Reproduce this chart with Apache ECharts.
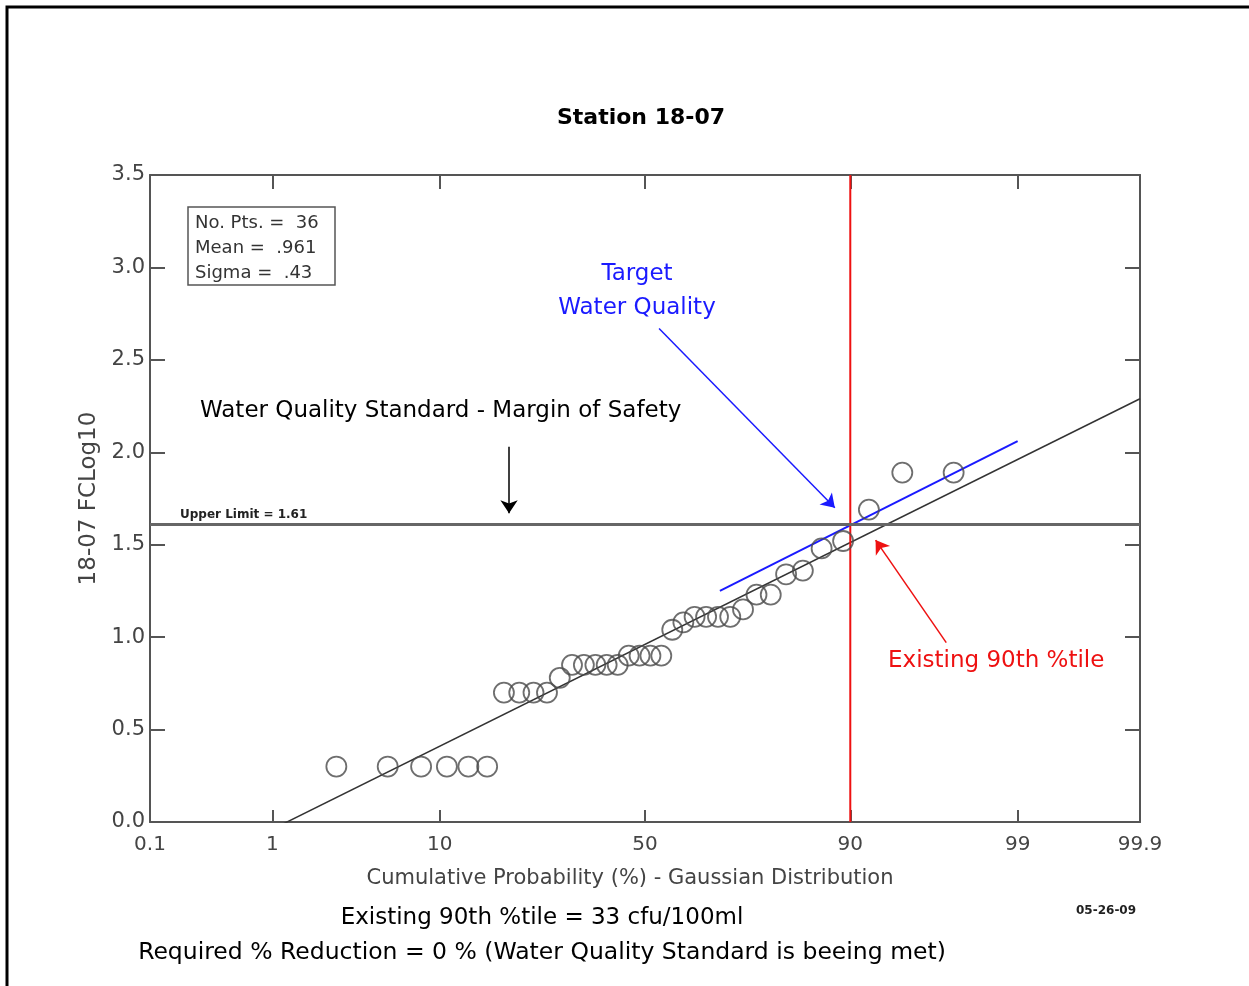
<!DOCTYPE html>
<html><head><meta charset="utf-8">
<script src="https://cdn.jsdelivr.net/npm/echarts@6/dist/echarts.min.js"></script>
<style>html,body{margin:0;padding:0;background:#fff;overflow:hidden}#c{width:1249px;height:986px}</style>
</head><body><div id="c"></div>
<script>
// ---- data ----
const probTicks = [0.1, 1, 10, 50, 90, 99, 99.9];
const topTicks = [1, 10, 50, 90, 99];
const pointProb = [2.70, 5.41, 8.11, 10.81, 13.51, 16.22, 18.92, 21.62, 24.32, 27.03, 29.73, 32.43, 35.14, 37.84, 40.54, 43.24, 45.95, 48.65, 51.35, 54.05, 56.76, 59.46, 62.16, 64.86, 67.57, 70.27, 72.97, 75.68, 78.38, 81.08, 83.78, 86.49, 89.19, 91.89, 94.59, 97.30];
const pointValue = [0.30, 0.30, 0.30, 0.30, 0.30, 0.30, 0.70, 0.70, 0.70, 0.70, 0.78, 0.85, 0.85, 0.85, 0.85, 0.85, 0.90, 0.90, 0.90, 0.90, 1.04, 1.08, 1.11, 1.11, 1.11, 1.11, 1.15, 1.23, 1.23, 1.34, 1.36, 1.48, 1.52, 1.69, 1.89, 1.89];
const meanVal = 0.961;
const sigmaVal = 0.43;
const upperLimit = 1.61;
const existing90 = 90;
const targetLine = [[68, 1.25], [99, 2.06]];
const arrowStd = [[19.8, 2.03], [19.8, 1.67]];
const arrowTarget = [[53.5, 2.67], [88.2, 1.70]];
const arrowExisting = [[97.0, 0.97], [92.5, 1.525]];

// inverse normal CDF (Acklam)
function invNorm(p) {
  const a = [-3.969683028665376e+01, 2.209460984245205e+02, -2.759285104469687e+02, 1.383577518672690e+02, -3.066479806614716e+01, 2.506628277459239e+00];
  const b = [-5.447609879822406e+01, 1.615858368580409e+02, -1.556989798598866e+02, 6.680131188771972e+01, -1.328068155288572e+01];
  const c = [-7.784894002430293e-03, -3.223964580411365e-01, -2.400758277161838e+00, -2.549732539343734e+00, 4.374664141464968e+00, 2.938163982698783e+00];
  const d = [7.784695709041462e-03, 3.224671290700398e-01, 2.445134137142996e+00, 3.754408661907416e+00];
  const pl = 0.02425, ph = 1 - pl;
  let q, r;
  if (p < pl) { q = Math.sqrt(-2 * Math.log(p)); return (((((c[0]*q+c[1])*q+c[2])*q+c[3])*q+c[4])*q+c[5]) / ((((d[0]*q+d[1])*q+d[2])*q+d[3])*q+1); }
  if (p <= ph) { q = p - 0.5; r = q*q; return (((((a[0]*r+a[1])*r+a[2])*r+a[3])*r+a[4])*r+a[5])*q / (((((b[0]*r+b[1])*r+b[2])*r+b[3])*r+b[4])*r+1); }
  q = Math.sqrt(-2 * Math.log(1 - p)); return -(((((c[0]*q+c[1])*q+c[2])*q+c[3])*q+c[4])*q+c[5]) / ((((d[0]*q+d[1])*q+d[2])*q+d[3])*q+1);
}
const zOf = pc => invNorm(pc / 100);
const zMin = zOf(probTicks[0]), zMax = zOf(probTicks[probTicks.length - 1]);
const tickZ = probTicks.map(zOf);
const topZ = topTicks.map(zOf);
const fmtX = v => { for (let i = 0; i < tickZ.length; i++) if (Math.abs(tickZ[i] - v) < 1e-6) return String(probTicks[i]); return ''; };

const scatterData = pointProb.map((p, i) => [zOf(p), pointValue[i]]);
const fitData = [[zMin, meanVal + sigmaVal * zMin], [zMax, meanVal + sigmaVal * zMax]];
const toZ = arr => arr.map(d => [zOf(d[0]), d[1]]);

const FONT = '"DejaVu Sans", Verdana, sans-serif';
const AX = '#555';
const chart = echarts.init(document.getElementById('c'), null, { renderer: 'canvas' });
const arrowLine = (pts, color) => ({
  symbol: ['none', 'arrow'], symbolSize: 13, silent: true, label: { show: false },
  lineStyle: { color: color, width: 1.5, type: 'solid' },
  data: [[{ coord: toZ(pts)[0] }, { coord: toZ(pts)[1] }]]
});

chart.setOption({
  animation: false,
  backgroundColor: '#fff',
  grid: { left: 150, right: 109, top: 175, bottom: 164, containLabel: false },
  xAxis: [{
    type: 'value', min: zMin, max: zMax, position: 'bottom',
    axisLine: { show: true, onZero: false, lineStyle: { color: AX, width: 2 } },
    axisTick: { show: true, inside: true, length: 12, customValues: tickZ, lineStyle: { color: AX, width: 2 } },
    axisLabel: { show: true, customValues: tickZ, formatter: fmtX, color: '#444', fontFamily: FONT, fontSize: 20, margin: 13, showMinLabel: true, showMaxLabel: true },
    splitLine: { show: false }
  }, {
    type: 'value', min: zMin, max: zMax, position: 'top',
    axisLine: { show: true, onZero: false, lineStyle: { color: AX, width: 2 } },
    axisTick: { show: true, inside: true, length: 14, customValues: topZ, lineStyle: { color: AX, width: 2 } },
    axisLabel: { show: false }, splitLine: { show: false }
  }],
  yAxis: [{
    type: 'value', min: 0, max: 3.5, interval: 0.5, position: 'left',
    name: '18-07 FCLog10', nameLocation: 'middle', nameGap: 48, nameRotate: 90,
    nameTextStyle: { color: '#444', fontFamily: FONT, fontSize: 23 },
    axisLine: { show: true, onZero: false, lineStyle: { color: AX, width: 2 } },
    axisTick: { show: true, inside: true, length: 15, lineStyle: { color: AX, width: 2 } },
    axisLabel: { color: '#444', fontFamily: FONT, fontSize: 21, margin: 5, formatter: v => v.toFixed(1) },
    splitLine: { show: false }
  }, {
    type: 'value', min: 0, max: 3.5, interval: 0.5, position: 'right',
    axisLine: { show: true, onZero: false, lineStyle: { color: AX, width: 2 } },
    axisTick: { show: true, inside: true, length: 15, lineStyle: { color: AX, width: 2 } },
    axisLabel: { show: false }, splitLine: { show: false }
  }],
  series: [
    { type: 'line', data: fitData, showSymbol: false, symbol: 'none', clip: true,
      lineStyle: { color: '#333', width: 1.5 }, z: 2,
      markLine: { symbol: ['none', 'none'], silent: true, label: { show: false },
        lineStyle: { color: '#666', width: 3, type: 'solid' }, data: [{ yAxis: upperLimit }] } },
    { type: 'line', data: toZ(targetLine), showSymbol: false, symbol: 'none',
      lineStyle: { color: '#1a1aff', width: 2 }, z: 3,
      markLine: arrowLine(arrowTarget, '#1a1aff') },
    { type: 'line', data: [[zOf(existing90), 0], [zOf(existing90), 3.5]], showSymbol: false, symbol: 'none',
      lineStyle: { color: '#ee1111', width: 2 }, z: 4,
      markLine: arrowLine(arrowExisting, '#ee1111') },
    { type: 'line', data: [], showSymbol: false, markLine: arrowLine(arrowStd, '#000') },
    { type: 'scatter', data: scatterData, symbol: 'circle', symbolSize: 20, z: 5,
      itemStyle: { color: 'rgba(0,0,0,0)', borderColor: '#4a4a4a', borderWidth: 1.8 } }
  ],
  graphic: [
    { type: 'rect', shape: { x: 7, y: 7, width: 1400, height: 1200 }, style: { fill: null, stroke: '#000', lineWidth: 3 }, silent: true },
    { type: 'text', x: 641, y: 107, style: { text: 'Station 18-07', fill: '#000', font: 'bold 22px ' + FONT, align: 'center' } },
    { type: 'rect', shape: { x: 188, y: 207, width: 147, height: 78 }, style: { fill: '#fff', stroke: '#555', lineWidth: 1.5 }, z: 10 },
    { type: 'text', x: 195, y: 211, z: 11, style: { text: 'No. Pts. =  36\nMean =  .961\nSigma =  .43', fill: '#333', font: '18px ' + FONT, lineHeight: 25 } },
    { type: 'text', x: 180, y: 509, style: { text: 'Upper Limit = 1.61', fill: '#222', font: 'bold 12px ' + FONT } },
    { type: 'text', x: 200, y: 400, style: { text: 'Water Quality Standard - Margin of Safety', fill: '#000', font: '23px ' + FONT } },
    { type: 'text', x: 637, y: 257, style: { text: 'Target\nWater Quality', fill: '#1a1aff', font: '23px ' + FONT, align: 'center', lineHeight: 34 } },
    { type: 'text', x: 888, y: 650, style: { text: 'Existing 90th %tile', fill: '#ee1111', font: '23px ' + FONT } },
    { type: 'text', x: 630, y: 868, style: { text: 'Cumulative Probability (%) - Gaussian Distribution', fill: '#444', font: '21px ' + FONT, align: 'center' } },
    { type: 'text', x: 542, y: 907, style: { text: 'Existing 90th %tile = 33 cfu/100ml', fill: '#000', font: '23px ' + FONT, align: 'center' } },
    { type: 'text', x: 542, y: 941, style: { text: 'Required % Reduction = 0 % (Water Quality Standard is beeing met)', fill: '#000', font: '23.5px ' + FONT, align: 'center' } },
    { type: 'text', x: 1076, y: 905, style: { text: '05-26-09', fill: '#222', font: 'bold 12px ' + FONT } }
  ]
});
</script></body></html>
